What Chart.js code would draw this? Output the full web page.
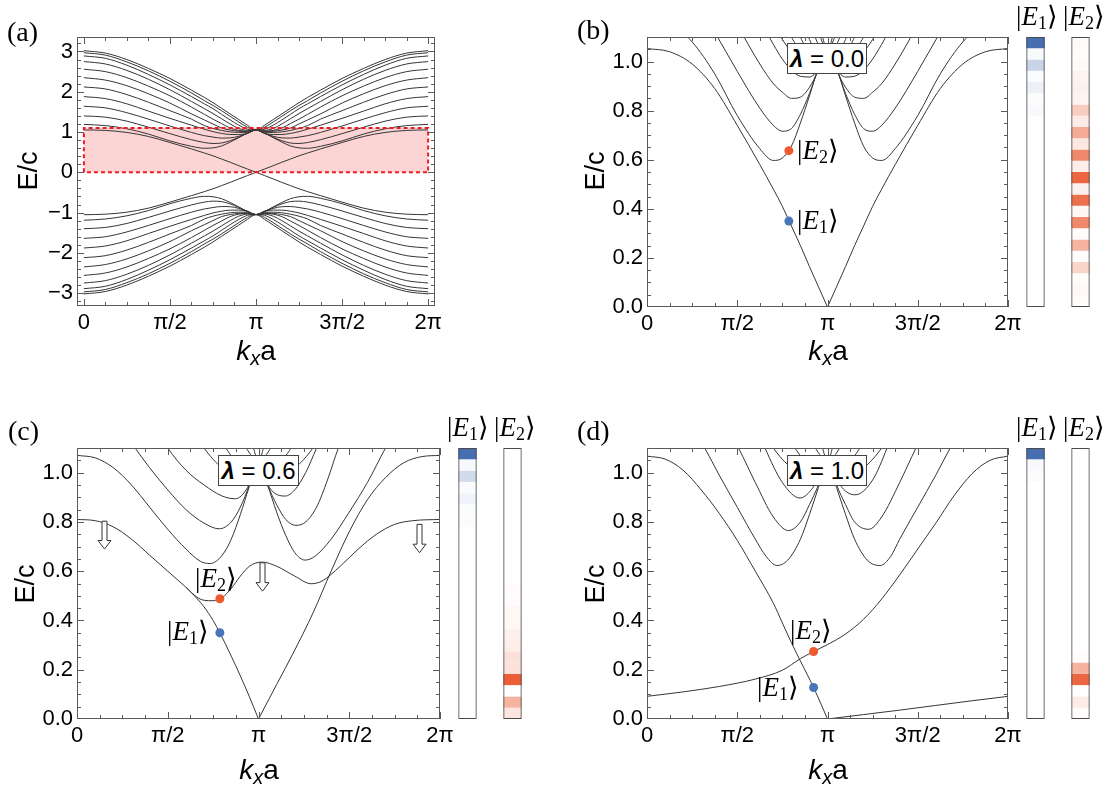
<!DOCTYPE html>
<html>
<head>
<meta charset="utf-8">
<title>Band structure</title>
<script src="https://cdn.jsdelivr.net/npm/chart.js@4.4.1/dist/chart.umd.min.js"></script>
<style>
  html, body { margin: 0; padding: 0; background: #fff; }
  #page { position: relative; width: 1115px; height: 805px; overflow: hidden; font-family: 'Liberation Sans', Arial, sans-serif; color: #000; }
  canvas { position: absolute; }
  .panel { position: absolute; font-family: 'Liberation Serif', 'DejaVu Serif', serif; font-size: 28px; line-height: 28px; }
  .ylab { position: absolute; font-size: 27px; line-height: 27px; white-space: nowrap; transform: translate(-50%, -50%) rotate(-90deg); }
  .xlab { position: absolute; font-size: 28px; line-height: 28px; white-space: nowrap; transform: translateX(-50%); }
  .xlab sub { font-size: 20px; vertical-align: -5px; line-height: 0; }
  .ket { position: absolute; font-family: 'Liberation Serif', 'DejaVu Serif', serif; font-size: 27px; line-height: 27px; white-space: nowrap; }
  .ket sub { font-size: 18px; vertical-align: -4px; line-height: 0; font-style: normal; }
  .lam { position: absolute; background: #fff; border: 1px solid #444; box-sizing: border-box; font-size: 24px; text-align: center; }
</style>
</head>
<body>
<div id="page">
  <canvas id="chartA"></canvas>
  <canvas id="chartB"></canvas>
  <canvas id="chartC"></canvas>
  <canvas id="chartD"></canvas>
  <canvas id="stripB"></canvas>
  <canvas id="stripC"></canvas>
  <canvas id="stripD"></canvas>

  <div class="panel" style="left:7px;top:18px">(a)</div>
  <div class="panel" style="left:577px;top:16px">(b)</div>
  <div class="panel" style="left:8px;top:417px">(c)</div>
  <div class="panel" style="left:577px;top:417px">(d)</div>

  <div class="ylab" style="left:28px;top:171px">E/c</div>
  <div class="ylab" style="left:595px;top:171px">E/c</div>
  <div class="ylab" style="left:25px;top:584px">E/c</div>
  <div class="ylab" style="left:595px;top:584px">E/c</div>

  <div class="xlab" style="left:256px;top:337px"><i>k</i><sub><i>x</i></sub>a</div>
  <div class="xlab" style="left:828px;top:337px"><i>k</i><sub><i>x</i></sub>a</div>
  <div class="xlab" style="left:259px;top:756px"><i>k</i><sub><i>x</i></sub>a</div>
  <div class="xlab" style="left:828px;top:756px"><i>k</i><sub><i>x</i></sub>a</div>

  <div class="lam" style="left:787px;top:43px;width:80px;height:31px;line-height:29px"><b><i>λ</i></b> = 0.0</div>
  <div class="lam" style="left:218px;top:455px;width:81px;height:31px;line-height:29px"><b><i>λ</i></b> = 0.6</div>
  <div class="lam" style="left:787px;top:455px;width:80px;height:31px;line-height:29px"><b><i>λ</i></b> = 1.0</div>

  <div class="ket" style="left:1016px;top:3px">|<i>E</i><sub>1</sub>⟩</div>
  <div class="ket" style="left:1063px;top:3px">|<i>E</i><sub>2</sub>⟩</div>
  <div class="ket" style="left:447px;top:414px">|<i>E</i><sub>1</sub>⟩</div>
  <div class="ket" style="left:494px;top:414px">|<i>E</i><sub>2</sub>⟩</div>
  <div class="ket" style="left:1016px;top:414px">|<i>E</i><sub>1</sub>⟩</div>
  <div class="ket" style="left:1063px;top:414px">|<i>E</i><sub>2</sub>⟩</div>

  <div class="ket" style="left:797px;top:137px">|<i>E</i><sub>2</sub>⟩</div>
  <div class="ket" style="left:797px;top:207px">|<i>E</i><sub>1</sub>⟩</div>
  <div class="ket" style="left:195px;top:565px">|<i>E</i><sub>2</sub>⟩</div>
  <div class="ket" style="left:167px;top:618px">|<i>E</i><sub>1</sub>⟩</div>
  <div class="ket" style="left:790px;top:617px">|<i>E</i><sub>2</sub>⟩</div>
  <div class="ket" style="left:757px;top:674px">|<i>E</i><sub>1</sub>⟩</div>
</div>

<script>
// k is measured in units of pi
const kTicks = [0, 0.5, 1, 1.5, 2];
const kTickLabels = ['0', 'π/2', 'π', '3π/2', '2π'];
const kMinor = [0.125, 0.25, 0.375, 0.625, 0.75, 0.875, 1.125, 1.25, 1.375, 1.625, 1.75, 1.875];

const eTicksA = [-3, -2, -1, 0, 1, 2, 3];
const eTickLabelsA = ['−3', '−2', '−1', '0', '1', '2', '3'];
const eMinorA = [-3.2, -2.8, -2.6, -2.4, -2.2, -1.8, -1.6, -1.4, -1.2, -0.8, -0.6, -0.4, -0.2,
  0.2, 0.4, 0.6, 0.8, 1.2, 1.4, 1.6, 1.8, 2.2, 2.4, 2.6, 2.8, 3.2];

const eTicks = [0, 0.2, 0.4, 0.6, 0.8, 1.0];
const eTickLabels = ['0.0', '0.2', '0.4', '0.6', '0.8', '1.0'];
const eMinor = [0.05, 0.1, 0.15, 0.25, 0.3, 0.35, 0.45, 0.5, 0.55, 0.65, 0.7, 0.75, 0.85, 0.9, 0.95, 1.05];

// lambda = 0 : full spectrum, panels (a) and (b)
const k0 = [0, 0.125, 0.25, 0.375, 0.5, 0.625, 0.7, 0.75, 0.8, 0.85, 0.9, 0.95, 1,
  1.05, 1.1, 1.15, 1.2, 1.25, 1.3, 1.375, 1.5, 1.625, 1.75, 1.875, 2];
const up1 = [1.19, 1.16, 1.08, 0.95, 0.78, 0.645, 0.597, 0.607, 0.655, 0.75, 0.86, 0.975, 1.05, 0.975, 0.86, 0.75, 0.655, 0.607, 0.597, 0.645, 0.78, 0.95, 1.08, 1.16, 1.19];
const up2 = [1.40, 1.37, 1.27, 1.12, 0.96, 0.81, 0.74, 0.716, 0.727, 0.785, 0.87, 0.97, 1.05, 0.97, 0.87, 0.785, 0.727, 0.716, 0.74, 0.81, 0.96, 1.12, 1.27, 1.37, 1.40];
const up3 = [1.64, 1.60, 1.48, 1.32, 1.15, 0.99, 0.91, 0.875, 0.85, 0.855, 0.895, 0.965, 1.05, 0.965, 0.895, 0.855, 0.85, 0.875, 0.91, 0.99, 1.15, 1.32, 1.48, 1.60, 1.64];
const up4 = [1.88, 1.83, 1.70, 1.52, 1.34, 1.17, 1.07, 1.01, 0.965, 0.94, 0.937, 0.97, 1.05, 0.97, 0.937, 0.94, 0.965, 1.01, 1.07, 1.17, 1.34, 1.52, 1.70, 1.83, 1.88];
const up5 = [2.12, 2.07, 1.93, 1.74, 1.53, 1.32, 1.16, 1.09, 1.04, 1.005, 0.99, 0.995, 1.05, 0.995, 0.99, 1.005, 1.04, 1.09, 1.16, 1.32, 1.53, 1.74, 1.93, 2.07, 2.12];
const up6 = [2.35, 2.29, 2.15, 1.95, 1.72, 1.45, 1.30, 1.20, 1.10, 1.05, 1.02, 1.015, 1.05, 1.015, 1.02, 1.05, 1.10, 1.20, 1.30, 1.45, 1.72, 1.95, 2.15, 2.29, 2.35];
const up7 = [2.56, 2.50, 2.35, 2.14, 1.90, 1.62, 1.44, 1.32, 1.21, 1.10, 1.04, 1.02, 1.05, 1.02, 1.04, 1.10, 1.21, 1.32, 1.44, 1.62, 1.90, 2.14, 2.35, 2.50, 2.56];
const up8 = [2.75, 2.69, 2.53, 2.31, 2.05, 1.76, 1.58, 1.46, 1.33, 1.20, 1.09, 1.04, 1.05, 1.04, 1.09, 1.20, 1.33, 1.46, 1.58, 1.76, 2.05, 2.31, 2.53, 2.69, 2.75];
const up9 = [2.89, 2.83, 2.66, 2.43, 2.17, 1.88, 1.70, 1.58, 1.44, 1.30, 1.17, 1.07, 1.05, 1.07, 1.17, 1.30, 1.44, 1.58, 1.70, 1.88, 2.17, 2.43, 2.66, 2.83, 2.89];
const up10 = [2.97, 2.91, 2.74, 2.52, 2.26, 1.97, 1.78, 1.66, 1.53, 1.39, 1.25, 1.12, 1.05, 1.12, 1.25, 1.39, 1.53, 1.66, 1.78, 1.97, 2.26, 2.52, 2.74, 2.91, 2.97];
const up11 = [3.02, 2.96, 2.80, 2.58, 2.33, 2.04, 1.86, 1.73, 1.59, 1.45, 1.31, 1.17, 1.05, 1.17, 1.31, 1.45, 1.59, 1.73, 1.86, 2.04, 2.33, 2.58, 2.80, 2.96, 3.02];
const lo1 = [-1.19, -1.16, -1.08, -0.95, -0.78, -0.645, -0.597, -0.607, -0.655, -0.75, -0.86, -0.975, -1.05, -0.975, -0.86, -0.75, -0.655, -0.607, -0.597, -0.645, -0.78, -0.95, -1.08, -1.16, -1.19];
const lo2 = [-1.40, -1.37, -1.27, -1.12, -0.96, -0.81, -0.74, -0.716, -0.727, -0.785, -0.87, -0.97, -1.05, -0.97, -0.87, -0.785, -0.727, -0.716, -0.74, -0.81, -0.96, -1.12, -1.27, -1.37, -1.40];
const lo3 = [-1.64, -1.60, -1.48, -1.32, -1.15, -0.99, -0.91, -0.875, -0.85, -0.855, -0.895, -0.965, -1.05, -0.965, -0.895, -0.855, -0.85, -0.875, -0.91, -0.99, -1.15, -1.32, -1.48, -1.60, -1.64];
const lo4 = [-1.88, -1.83, -1.70, -1.52, -1.34, -1.17, -1.07, -1.01, -0.965, -0.94, -0.937, -0.97, -1.05, -0.97, -0.937, -0.94, -0.965, -1.01, -1.07, -1.17, -1.34, -1.52, -1.70, -1.83, -1.88];
const lo5 = [-2.12, -2.07, -1.93, -1.74, -1.53, -1.32, -1.16, -1.09, -1.04, -1.005, -0.99, -0.995, -1.05, -0.995, -0.99, -1.005, -1.04, -1.09, -1.16, -1.32, -1.53, -1.74, -1.93, -2.07, -2.12];
const lo6 = [-2.35, -2.29, -2.15, -1.95, -1.72, -1.45, -1.30, -1.20, -1.10, -1.05, -1.02, -1.015, -1.05, -1.015, -1.02, -1.05, -1.10, -1.20, -1.30, -1.45, -1.72, -1.95, -2.15, -2.29, -2.35];
const lo7 = [-2.56, -2.50, -2.35, -2.14, -1.90, -1.62, -1.44, -1.32, -1.21, -1.10, -1.04, -1.02, -1.05, -1.02, -1.04, -1.10, -1.21, -1.32, -1.44, -1.62, -1.90, -2.14, -2.35, -2.50, -2.56];
const lo8 = [-2.75, -2.69, -2.53, -2.31, -2.05, -1.76, -1.58, -1.46, -1.33, -1.20, -1.09, -1.04, -1.05, -1.04, -1.09, -1.20, -1.33, -1.46, -1.58, -1.76, -2.05, -2.31, -2.53, -2.69, -2.75];
const lo9 = [-2.89, -2.83, -2.66, -2.43, -2.17, -1.88, -1.70, -1.58, -1.44, -1.30, -1.17, -1.07, -1.05, -1.07, -1.17, -1.30, -1.44, -1.58, -1.70, -1.88, -2.17, -2.43, -2.66, -2.83, -2.89];
const lo10 = [-2.97, -2.91, -2.74, -2.52, -2.26, -1.97, -1.78, -1.66, -1.53, -1.39, -1.25, -1.12, -1.05, -1.12, -1.25, -1.39, -1.53, -1.66, -1.78, -1.97, -2.26, -2.52, -2.74, -2.91, -2.97];
const lo11 = [-3.02, -2.96, -2.80, -2.58, -2.33, -2.04, -1.86, -1.73, -1.59, -1.45, -1.31, -1.17, -1.05, -1.17, -1.31, -1.45, -1.59, -1.73, -1.86, -2.04, -2.33, -2.58, -2.80, -2.96, -3.02];
const edgeA = [1.053, 1.04, 0.99, 0.89, 0.74, 0.58, 0.48, 0.41, 0.33, 0.25, 0.165, 0.082, 0, -0.082, -0.165, -0.25, -0.33, -0.41, -0.48, -0.58, -0.74, -0.89, -0.99, -1.04, -1.053];
const edgeB = [-1.053, -1.04, -0.99, -0.89, -0.74, -0.58, -0.48, -0.41, -0.33, -0.25, -0.165, -0.082, 0, 0.082, 0.165, 0.25, 0.33, 0.41, 0.48, 0.58, 0.74, 0.89, 0.99, 1.04, 1.053];
const upperBands0 = [up1, up2, up3, up4, up5, up6, up7, up8, up9, up10, up11];
const lowerBands0 = [lo1, lo2, lo3, lo4, lo5, lo6, lo7, lo8, lo9, lo10, lo11];
const shadeBox = [[0, 0], [0, 1.1], [2, 1.1], [2, 0], [0, 0]];

// lambda = 0.6 : panel (c), [k, E]
const c06Top = [[0, 1.07], [0.1, 1.06], [0.2, 1.02], [0.3, 0.95], [0.4, 0.86], [0.5, 0.77], [0.6, 0.69], [0.68, 0.64], [0.734, 0.631], [0.8, 0.665], [0.85, 0.73], [0.9, 0.83], [0.95, 0.945], [1, 1.05], [1.05, 0.95], [1.1, 0.84], [1.15, 0.745], [1.2, 0.675], [1.256, 0.645], [1.31, 0.66], [1.4, 0.73], [1.5, 0.84], [1.6, 0.96], [1.7, 1.1], [1.78, 1.2]];
const c06U2 = [[0.22, 1.2], [0.32, 1.1], [0.4, 1.02], [0.5, 0.93], [0.6, 0.85], [0.7, 0.795], [0.783, 0.772], [0.85, 0.8], [0.9, 0.86], [0.95, 0.95], [1, 1.05], [1.05, 0.95], [1.1, 0.87], [1.15, 0.81], [1.206, 0.786], [1.26, 0.8], [1.32, 0.86], [1.38, 0.97], [1.44, 1.1], [1.5, 1.2]];
const c06U3 = [[0.42, 1.2], [0.5, 1.1], [0.6, 1.01], [0.7, 0.95], [0.8, 0.905], [0.872, 0.894], [0.94, 0.94], [1, 1.05], [1.06, 0.94], [1.147, 0.905], [1.2, 0.93], [1.26, 1.0], [1.32, 1.1], [1.38, 1.2]];
const c06E2 = [[0, 0.81], [0.1, 0.805], [0.2, 0.78], [0.3, 0.73], [0.4, 0.665], [0.5, 0.6], [0.6, 0.535], [0.66, 0.495], [0.7, 0.482], [0.75, 0.48], [0.8, 0.493], [0.85, 0.53], [0.9, 0.58], [0.95, 0.62], [1.02, 0.637], [1.1, 0.62], [1.2, 0.58], [1.29, 0.549], [1.35, 0.56], [1.45, 0.62], [1.55, 0.69], [1.65, 0.75], [1.75, 0.79], [1.85, 0.805], [2, 0.81]];
const c06E1 = [[0.6, 0.535], [0.66, 0.49], [0.7, 0.455], [0.75, 0.40], [0.787, 0.35], [0.85, 0.255], [0.9, 0.175], [0.95, 0.09], [1, 0]];
const c06Right = [[1, 0], [1.1, 0.14], [1.2, 0.28], [1.3, 0.43], [1.4, 0.6], [1.5, 0.76], [1.6, 0.89], [1.7, 0.98], [1.8, 1.04], [1.9, 1.065], [2, 1.07]];

// lambda = 1.0 : panel (d), [k, E]
const d10A = [[0, 1.067], [0.1, 1.055], [0.2, 1.01], [0.3, 0.93], [0.4, 0.835], [0.5, 0.725], [0.6, 0.6], [0.7, 0.47], [0.75, 0.39], [0.8, 0.31], [0.85, 0.235], [0.923, 0.128], [1, 0]];
const d10ARight = [[1, 0], [1.2, 0.018], [1.4, 0.036], [1.6, 0.055], [1.8, 0.074], [2, 0.092]];
const d10B = [[0, 0.092], [0.2, 0.11], [0.4, 0.132], [0.6, 0.162], [0.75, 0.198], [0.85, 0.245], [0.923, 0.274], [1, 0.302], [1.1, 0.345], [1.2, 0.405], [1.3, 0.487], [1.4, 0.585], [1.5, 0.69], [1.6, 0.795], [1.7, 0.905], [1.8, 0.995], [1.9, 1.05], [2, 1.067]];
const d10U1 = [[0.24, 1.2], [0.32, 1.1], [0.4, 0.99], [0.5, 0.86], [0.6, 0.73], [0.66, 0.66], [0.719, 0.623], [0.78, 0.645], [0.85, 0.73], [0.9, 0.83], [0.95, 0.94], [1, 1.05], [1.05, 0.94], [1.1, 0.83], [1.15, 0.73], [1.22, 0.645], [1.292, 0.623], [1.35, 0.66], [1.4, 0.73], [1.5, 0.86], [1.6, 0.99], [1.68, 1.1], [1.76, 1.2]];
const d10U2 = [[0.43, 1.2], [0.507, 1.1], [0.6, 0.96], [0.7, 0.82], [0.784, 0.765], [0.85, 0.8], [0.9, 0.87], [0.95, 0.95], [1, 1.05], [1.05, 0.95], [1.1, 0.87], [1.15, 0.8], [1.228, 0.77], [1.3, 0.82], [1.4, 0.96], [1.49, 1.1], [1.56, 1.2]];
const d10U3 = [[0.6, 1.2], [0.654, 1.1], [0.75, 0.96], [0.848, 0.897], [0.92, 0.94], [1, 1.05], [1.08, 0.94], [1.153, 0.91], [1.25, 0.97], [1.33, 1.1], [1.38, 1.2]];

// upper bands bunching at k = pi (panels c, d)
const fan1 = [[0.62, 1.2], [0.7, 1.1], [0.8, 1.02], [0.9, 0.99], [1, 1.05], [1.1, 0.99], [1.2, 1.02], [1.3, 1.1], [1.38, 1.2]];
const fan2 = [[0.75, 1.2], [0.82, 1.1], [0.9, 1.04], [1, 1.05], [1.1, 1.04], [1.18, 1.1], [1.25, 1.2]];
const fan3 = [[0.85, 1.25], [0.9, 1.15], [0.95, 1.08], [1, 1.05], [1.05, 1.08], [1.1, 1.15], [1.15, 1.25]];
const fan4 = [[0.9, 1.3], [0.95, 1.17], [1, 1.05], [1.05, 1.17], [1.1, 1.3]];

// marked states [k, E]
const dotsB = { e1: [0.786, 0.35], e2: [0.786, 0.637] };
const dotsC = { e1: [0.787, 0.35], e2: [0.787, 0.488] };
const dotsD = { e1: [0.923, 0.128], e2: [0.923, 0.274] };

// hollow arrows in (c): [k, E start, E tip]
const arrowsC = [[0.148, 0.803, 0.69], [1.02, 0.634, 0.519], [1.885, 0.79, 0.675]];

// site weights of the two marked states, top row first
const stateLabels = ['|E1⟩', '|E2⟩'];
const weightE1b = [1.0, 0.04, 0.3, 0.03, 0.1, 0.02, 0.04, 0, 0, 0, 0, 0, 0, 0, 0, 0, 0, 0, 0, 0, 0, 0, 0, 0];
const weightE2b = [0.03, 0.02, 0.03, 0.07, 0.08, 0.07, 0.3, 0.12, 0.5, 0.14, 0.7, 0.1, 0.9, 0.08, 0.85, 0.05, 0.7, 0.02, 0.45, 0.02, 0.25, 0.02, 0.04, 0.02];
const weightE1c = [1.0, 0.05, 0.25, 0.03, 0.08, 0.02, 0.03, 0, 0, 0, 0, 0, 0, 0, 0, 0, 0, 0, 0, 0, 0, 0, 0, 0];
const weightE2c = [0, 0, 0, 0, 0, 0, 0, 0, 0, 0, 0, 0, 0.02, 0.02, 0.04, 0.05, 0.08, 0.1, 0.18, 0.18, 0.95, 0, 0.45, 0.15];
const weightE1d = [1.0, 0.04, 0.02, 0, 0, 0, 0, 0, 0, 0, 0, 0, 0, 0, 0, 0, 0, 0, 0, 0, 0, 0, 0, 0];
const weightE2d = [0, 0, 0, 0, 0, 0, 0, 0, 0, 0, 0, 0, 0, 0, 0, 0, 0, 0, 0.02, 0.45, 0.9, 0, 0.12, 0.02];

const lineColor = '#353535';
const frameColor = '#5a5a5a';
const tickFont = { family: "'Liberation Sans', Arial, sans-serif", size: 22 };
const blueBase = [70, 110, 176];
const redBase = [234, 86, 44];

function gridPts(ks, es) { return ks.map((k, i) => ({ x: k, y: es[i] })); }
function pairPts(arr) { return arr.map(p => ({ x: p[0], y: p[1] })); }
function curve(points) { return { data: points, borderColor: lineColor, borderWidth: 1, pointRadius: 0, fill: false, cubicInterpolationMode: 'monotone' }; }
function dot(p, color) { return { data: [{ x: p[0], y: p[1] }], showLine: false, pointRadius: 4.5, pointHoverRadius: 4.5, pointBackgroundColor: color, pointBorderWidth: 0, order: -2 }; }

// frame with inward ticks on all sides
const framePlugin = {
  id: 'frame',
  afterDatasetsDraw(chart, args, o) {
    const { ctx, chartArea: a, scales: { x, y } } = chart;
    ctx.save();
    ctx.strokeStyle = frameColor;
    ctx.lineWidth = 1;
    ctx.beginPath();
    const vt = (vals, len) => vals.forEach(v => {
      const px = Math.round(x.getPixelForValue(v)) + 0.5;
      ctx.moveTo(px, a.bottom); ctx.lineTo(px, a.bottom - len);
      ctx.moveTo(px, a.top); ctx.lineTo(px, a.top + len);
    });
    const ht = (vals, len) => vals.forEach(v => {
      const py = Math.round(y.getPixelForValue(v)) + 0.5;
      if (py < a.top || py > a.bottom) return;
      ctx.moveTo(a.left, py); ctx.lineTo(a.left + len, py);
      ctx.moveTo(a.right, py); ctx.lineTo(a.right - len, py);
    });
    vt(o.xMajor, 7); vt(o.xMinor, 4);
    ht(o.yMajor, 7); ht(o.yMinor, 4);
    ctx.stroke();
    ctx.strokeRect(Math.round(a.left) + 0.5, Math.round(a.top) + 0.5, Math.round(a.width) - 1, Math.round(a.height) - 1);
    ctx.restore();
  }
};

// hollow block arrows
const arrowPlugin = {
  id: 'arrows',
  afterDatasetsDraw(chart, args, o) {
    if (!o.list || !o.list.length) return;
    const { ctx, scales: { x, y } } = chart;
    ctx.save();
    ctx.strokeStyle = '#333';
    ctx.fillStyle = '#fff';
    ctx.lineWidth = 1;
    o.list.forEach(([k, e0, e1]) => {
      const px = Math.round(x.getPixelForValue(k)) + 0.5;
      const y0 = y.getPixelForValue(e0), y1 = y.getPixelForValue(e1);
      const sw = 2.5, hw = 6.5, hh = 8.5;
      ctx.beginPath();
      ctx.moveTo(px - sw, y0); ctx.lineTo(px + sw, y0);
      ctx.lineTo(px + sw, y1 - hh); ctx.lineTo(px + hw, y1 - hh);
      ctx.lineTo(px, y1); ctx.lineTo(px - hw, y1 - hh);
      ctx.lineTo(px - sw, y1 - hh); ctx.closePath();
      ctx.fill(); ctx.stroke();
    });
    ctx.restore();
  }
};

function makeBands(id, frame, cfg) {
  const padL = 70, padT = 20, padR = 30, padB = 45;
  const cv = document.getElementById(id);
  cv.width = frame.w + padL + padR;
  cv.height = frame.h + padT + padB;
  cv.style.left = (frame.x - padL) + 'px';
  cv.style.top = (frame.y - padT) + 'px';
  new Chart(cv, {
    type: 'line',
    data: { datasets: cfg.datasets },
    options: {
      animation: false,
      responsive: false,
      layout: { padding: { left: 0, top: padT, right: padR, bottom: 0 } },
      scales: {
        x: {
          type: 'linear', min: cfg.xMin, max: cfg.xMax,
          grid: { display: false, drawTicks: false }, border: { display: false },
          afterFit: s => { s.height = padB; },
          afterBuildTicks: s => { s.ticks = kTicks.map(v => ({ value: v })); },
          ticks: { autoSkip: false, maxRotation: 0, padding: 4, color: '#000', font: tickFont,
            callback: v => kTickLabels[kTicks.indexOf(v)] }
        },
        y: {
          type: 'linear', min: cfg.yMin, max: cfg.yMax,
          grid: { display: false, drawTicks: false }, border: { display: false },
          afterFit: s => { s.width = padL; },
          afterBuildTicks: s => { s.ticks = cfg.yTicks.map(v => ({ value: v })); },
          ticks: { autoSkip: false, padding: 4, color: '#000', font: tickFont,
            callback: v => cfg.yLabels[cfg.yTicks.indexOf(v)] }
        }
      },
      plugins: {
        legend: { display: false },
        tooltip: { enabled: false },
        frame: { xMajor: kTicks, xMinor: kMinor, yMajor: cfg.yTicks, yMinor: cfg.yMinor },
        arrows: { list: cfg.arrows || [] }
      }
    },
    plugins: [framePlugin, arrowPlugin]
  });
}

function shade(base, a) {
  const c = base.map(v => Math.round(255 - a * (255 - v)));
  return 'rgb(' + c.join(',') + ')';
}

function makeStrip(id, box, e1, e2) {
  const cv = document.getElementById(id);
  cv.width = box.w; cv.height = box.h;
  cv.style.left = box.x + 'px'; cv.style.top = box.y + 'px';
  const rows = e1.length;
  const datasets = e1.map((a, i) => ({
    data: [[rows - 1 - i, rows - i], [rows - 1 - i, rows - i]],
    backgroundColor: [shade(blueBase, a), shade(redBase, e2[i])],
    borderWidth: 0
  }));
  datasets.push({ data: [[0, rows], [0, rows]], backgroundColor: 'rgba(0,0,0,0)', borderColor: '#4a4a4a', borderWidth: 1, borderSkipped: false, inflateAmount: 0, order: -1 });
  new Chart(cv, {
    type: 'bar',
    data: { labels: stateLabels, datasets },
    options: {
      animation: false,
      responsive: false,
      datasets: { bar: { categoryPercentage: 0.41, barPercentage: 1 } },
      layout: { padding: 0 },
      scales: {
        x: { display: false, stacked: true },
        y: { display: false, min: 0, max: rows }
      },
      plugins: { legend: { display: false }, tooltip: { enabled: false } }
    }
  });
}

// panel (a)
const dsA = [];
upperBands0.concat(lowerBands0).forEach(b => dsA.push(curve(gridPts(k0, b))));
dsA.push(curve(gridPts(k0, edgeA)));
dsA.push(curve(gridPts(k0, edgeB)));
dsA.push({ data: [{ x: 0, y: 1.1 }, { x: 2, y: 1.1 }], borderWidth: 0, pointRadius: 0, fill: { value: 0 }, backgroundColor: 'rgba(252,205,205,0.85)', order: 10 });
dsA.push({ data: pairPts(shadeBox), borderColor: '#ec1c24', borderWidth: 2, borderDash: [4, 3], pointRadius: 0, fill: false, tension: 0, order: -1 });
makeBands('chartA', { x: 77, y: 37, w: 358, h: 269 }, {
  xMin: -0.04, xMax: 2.04, yMin: -3.32, yMax: 3.36,
  yTicks: eTicksA, yLabels: eTickLabelsA, yMinor: eMinorA, datasets: dsA
});

// panel (b)
const dsB = upperBands0.map(b => curve(gridPts(k0, b)));
dsB.push(curve(gridPts(k0, edgeA)), curve(gridPts(k0, edgeB)));
dsB.push(dot(dotsB.e1, '#4a74b8'), dot(dotsB.e2, '#ee5a30'));
makeBands('chartB', { x: 647, y: 37, w: 361, h: 270 }, {
  xMin: 0, xMax: 2, yMin: 0, yMax: 1.1,
  yTicks: eTicks, yLabels: eTickLabels, yMinor: eMinor, datasets: dsB
});

// panel (c)
const dsC = [c06Top, c06U2, c06U3, c06E2, c06E1, c06Right, fan1, fan2, fan3, fan4].map(c => curve(pairPts(c)));
dsC.push(dot(dotsC.e1, '#4a74b8'), dot(dotsC.e2, '#ee5a30'));
makeBands('chartC', { x: 77, y: 448, w: 363, h: 271 }, {
  xMin: 0, xMax: 2, yMin: 0, yMax: 1.1,
  yTicks: eTicks, yLabels: eTickLabels, yMinor: eMinor, datasets: dsC, arrows: arrowsC
});

// panel (d)
const dsD = [d10A, d10ARight, d10B, d10U1, d10U2, d10U3, fan1, fan2, fan3, fan4].map(c => curve(pairPts(c)));
dsD.push(dot(dotsD.e1, '#4a74b8'), dot(dotsD.e2, '#ee5a30'));
makeBands('chartD', { x: 647, y: 448, w: 361, h: 271 }, {
  xMin: 0, xMax: 2, yMin: 0, yMax: 1.1,
  yTicks: eTicks, yLabels: eTickLabels, yMinor: eMinor, datasets: dsD
});

// state weight strips
makeStrip('stripB', { x: 1013, y: 37, w: 90, h: 270 }, weightE1b, weightE2b);
makeStrip('stripC', { x: 445, y: 448, w: 90, h: 271 }, weightE1c, weightE2c);
makeStrip('stripD', { x: 1013, y: 448, w: 90, h: 271 }, weightE1d, weightE2d);
</script>
</body>
</html>
